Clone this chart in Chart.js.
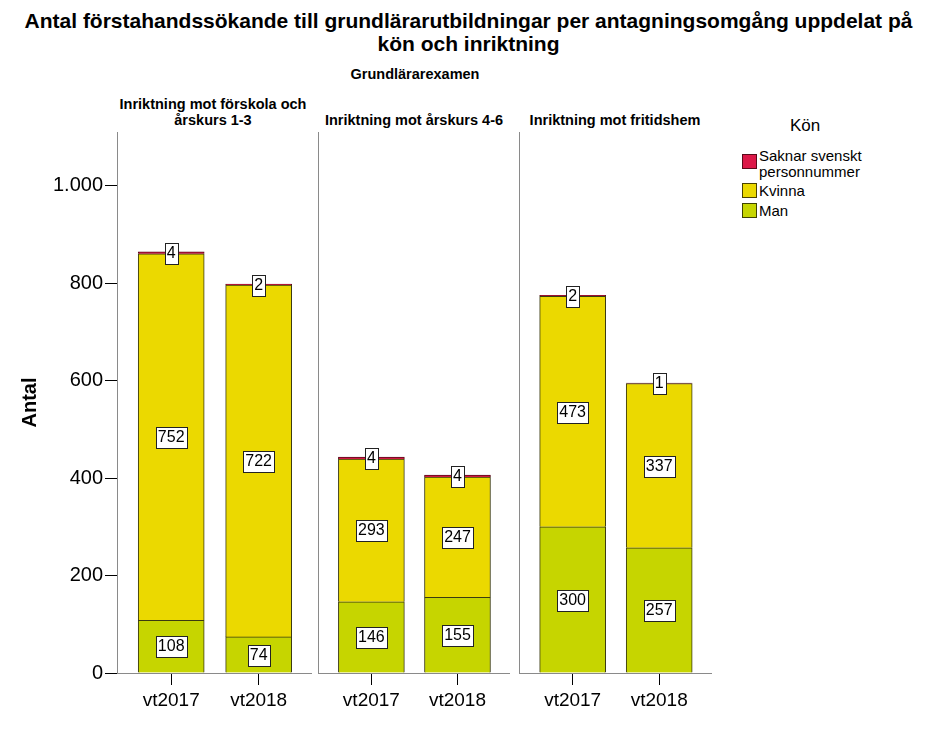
<!DOCTYPE html>
<html lang="sv">
<head>
<meta charset="utf-8">
<title>Grundlärarexamen</title>
<script src="https://cdn.jsdelivr.net/npm/chart.js@4.4.1/dist/chart.umd.min.js"></script>
<style>
    body { margin: 0; background: #fff; font-family: "Liberation Sans", Arial, sans-serif; }
    #wrap { position: relative; width: 937px; height: 750px; overflow: hidden; }
    .txt { position: absolute; color: #000; white-space: nowrap; text-align: center; }
    canvas { position: absolute; }
    .sw { position: absolute; width: 13px; height: 13px; border: 1px solid #333; }
    .lg { position: absolute; font-size: 15px; line-height: 16px; color: #000; }
</style>
</head>
<body>
<div id="wrap">
    <div class="txt" style="left:0;width:937px;top:9px;font-size:21px;font-weight:bold;line-height:23px;">
        Antal förstahandssökande till grundlärarutbildningar per antagningsomgång uppdelat på<br>kön och inriktning
    </div>
    <div class="txt" style="left:315px;width:200px;top:66px;font-size:14.5px;font-weight:bold;">Grundlärarexamen</div>
    <div class="txt" style="left:113px;width:200px;top:96px;font-size:14.5px;font-weight:bold;line-height:16px;">Inriktning mot förskola och<br>årskurs 1-3</div>
    <div class="txt" style="left:314px;width:200px;top:112px;font-size:14.5px;font-weight:bold;">Inriktning mot årskurs 4-6</div>
    <div class="txt" style="left:515px;width:200px;top:112px;font-size:14.5px;font-weight:bold;">Inriktning mot fritidshem</div>

    <div class="txt" style="left:765px;width:80px;top:116px;font-size:17px;">Kön</div>
    <div class="sw" style="left:742px;top:154px;background:#dc1848;border-color:#5a0a1a;"></div>
    <div class="lg" style="left:759px;top:148px;">Saknar svenskt<br>personnummer</div>
    <div class="sw" style="left:742px;top:183px;background:#ebd900;border-color:#4a4200;"></div>
    <div class="lg" style="left:759px;top:183px;">Kvinna</div>
    <div class="sw" style="left:742px;top:203px;background:#c6d500;border-color:#3e4200;"></div>
    <div class="lg" style="left:759px;top:203px;">Man</div>

    <canvas id="p1" width="312" height="620" style="left:0;top:100px;"></canvas>
    <canvas id="p2" width="202" height="620" style="left:308px;top:100px;"></canvas>
    <canvas id="p3" width="203" height="620" style="left:509px;top:100px;"></canvas>
</div>

<script>
    "use strict";

    // Data
    var categories = ["vt2017", "vt2018"];
    var panels = ["Inriktning mot förskola och årskurs 1-3", "Inriktning mot årskurs 4-6", "Inriktning mot fritidshem"];
    var manValues = [[108, 74], [146, 155], [300, 257]];
    var kvinnaValues = [[752, 722], [293, 247], [473, 337]];
    var saknarValues = [[4, 2], [4, 4], [2, 1]];
    var yTicks = [0, 200, 400, 600, 800, 1000];

    Chart.defaults.font.family = '"Liberation Sans", Arial, sans-serif';
    Chart.defaults.color = "#000";

    function points(vals) {
        return categories.map(function (c, i) { return {x: i, y: vals[i]}; });
    }

    // Value boxes
    var boxLabels = {
        id: "boxLabels",
        afterDatasetsDraw: function (chart) {
            var ctx = chart.ctx;
            ctx.save();
            ctx.font = '16px "Liberation Sans", Arial, sans-serif';
            ctx.textAlign = "center";
            ctx.textBaseline = "middle";
            chart.data.datasets.forEach(function (ds, di) {
                var meta = chart.getDatasetMeta(di);
                meta.data.forEach(function (bar, i) {
                    var txt = String(ds.data[i].y);
                    var cx = bar.x;
                    var cy = Math.round((bar.y + bar.base) / 2);
                    var w = Math.round(ctx.measureText(txt).width) + 4;
                    var h = 21;
                    var bx = Math.round(cx - w / 2) + 0.5;
                    var by = Math.round(cy - h / 2) + 0.5;
                    ctx.fillStyle = "#fff";
                    ctx.fillRect(bx, by, w, h);
                    ctx.strokeStyle = "#222";
                    ctx.lineWidth = 1;
                    ctx.strokeRect(bx, by, w, h);
                    ctx.fillStyle = "#000";
                    ctx.fillText(txt, cx, cy + 1);
                });
            });
            ctx.restore();
        }
    };

    function makePanel(id, p, axisWidth, showY) {
        var ctx = document.getElementById(id).getContext("2d");
        return new Chart(ctx, {
            type: "bar",
            data: {
                datasets: [
                    {label: "Man", data: points(manValues[p]), backgroundColor: "#c6d500", borderColor: "#3a3a10", borderWidth: 1},
                    {label: "Kvinna", data: points(kvinnaValues[p]), backgroundColor: "#ebd900", borderColor: "#3a3a10", borderWidth: 1},
                    {label: "Saknar svenskt personnummer", data: points(saknarValues[p]), backgroundColor: "#dc1848", borderColor: "#5a0a1a", borderWidth: 1}
                ]
            },
            options: {
                responsive: false,
                animation: false,
                layout: {padding: {top: 32, right: 0, left: 0, bottom: 0}},
                barThickness: 66,
                plugins: {legend: {display: false}, tooltip: {enabled: false}, title: {display: false}},
                scales: {
                    x: {
                        type: "linear",
                        stacked: true,
                        offset: false,
                        min: -0.62,
                        max: 1.61,
                        afterFit: function (s) { s.height = 47; },
                        afterBuildTicks: function (s) {
                            s.ticks = categories.map(function (c, i) { return {value: i}; });
                        },
                        grid: {offset: false, drawOnChartArea: false, color: "#000", tickLength: 12},
                        border: {color: "#8a8a8a"},
                        ticks: {
                            padding: 4,
                            maxRotation: 0,
                            autoSkip: false,
                            font: {size: 19},
                            callback: function (v) { return categories[v] !== undefined ? categories[v] : ""; }
                        }
                    },
                    y: {
                        stacked: true,
                        min: 0,
                        max: 1110,
                        afterFit: function (s) { s.width = axisWidth; },
                        grid: {drawOnChartArea: false, drawTicks: showY, color: "#000", tickLength: 12},
                        border: {color: "#8a8a8a"},
                        title: {display: showY, text: "Antal", font: {size: 20, weight: "bold"}, padding: {top: 18}},
                        afterBuildTicks: function (s) {
                            s.ticks = yTicks.map(function (v) { return {value: v}; });
                        },
                        ticks: {
                            display: showY,
                            padding: 2,
                            font: {size: 20},
                            callback: function (v) { return String(v).replace(/\B(?=(\d{3})+(?!\d))/g, "."); }
                        }
                    }
                }
            },
            plugins: [boxLabels]
        });
    }

    makePanel("p1", 0, 117, true);
    makePanel("p2", 1, 10, false);
    makePanel("p3", 2, 10, false);
</script>
</body>
</html>
